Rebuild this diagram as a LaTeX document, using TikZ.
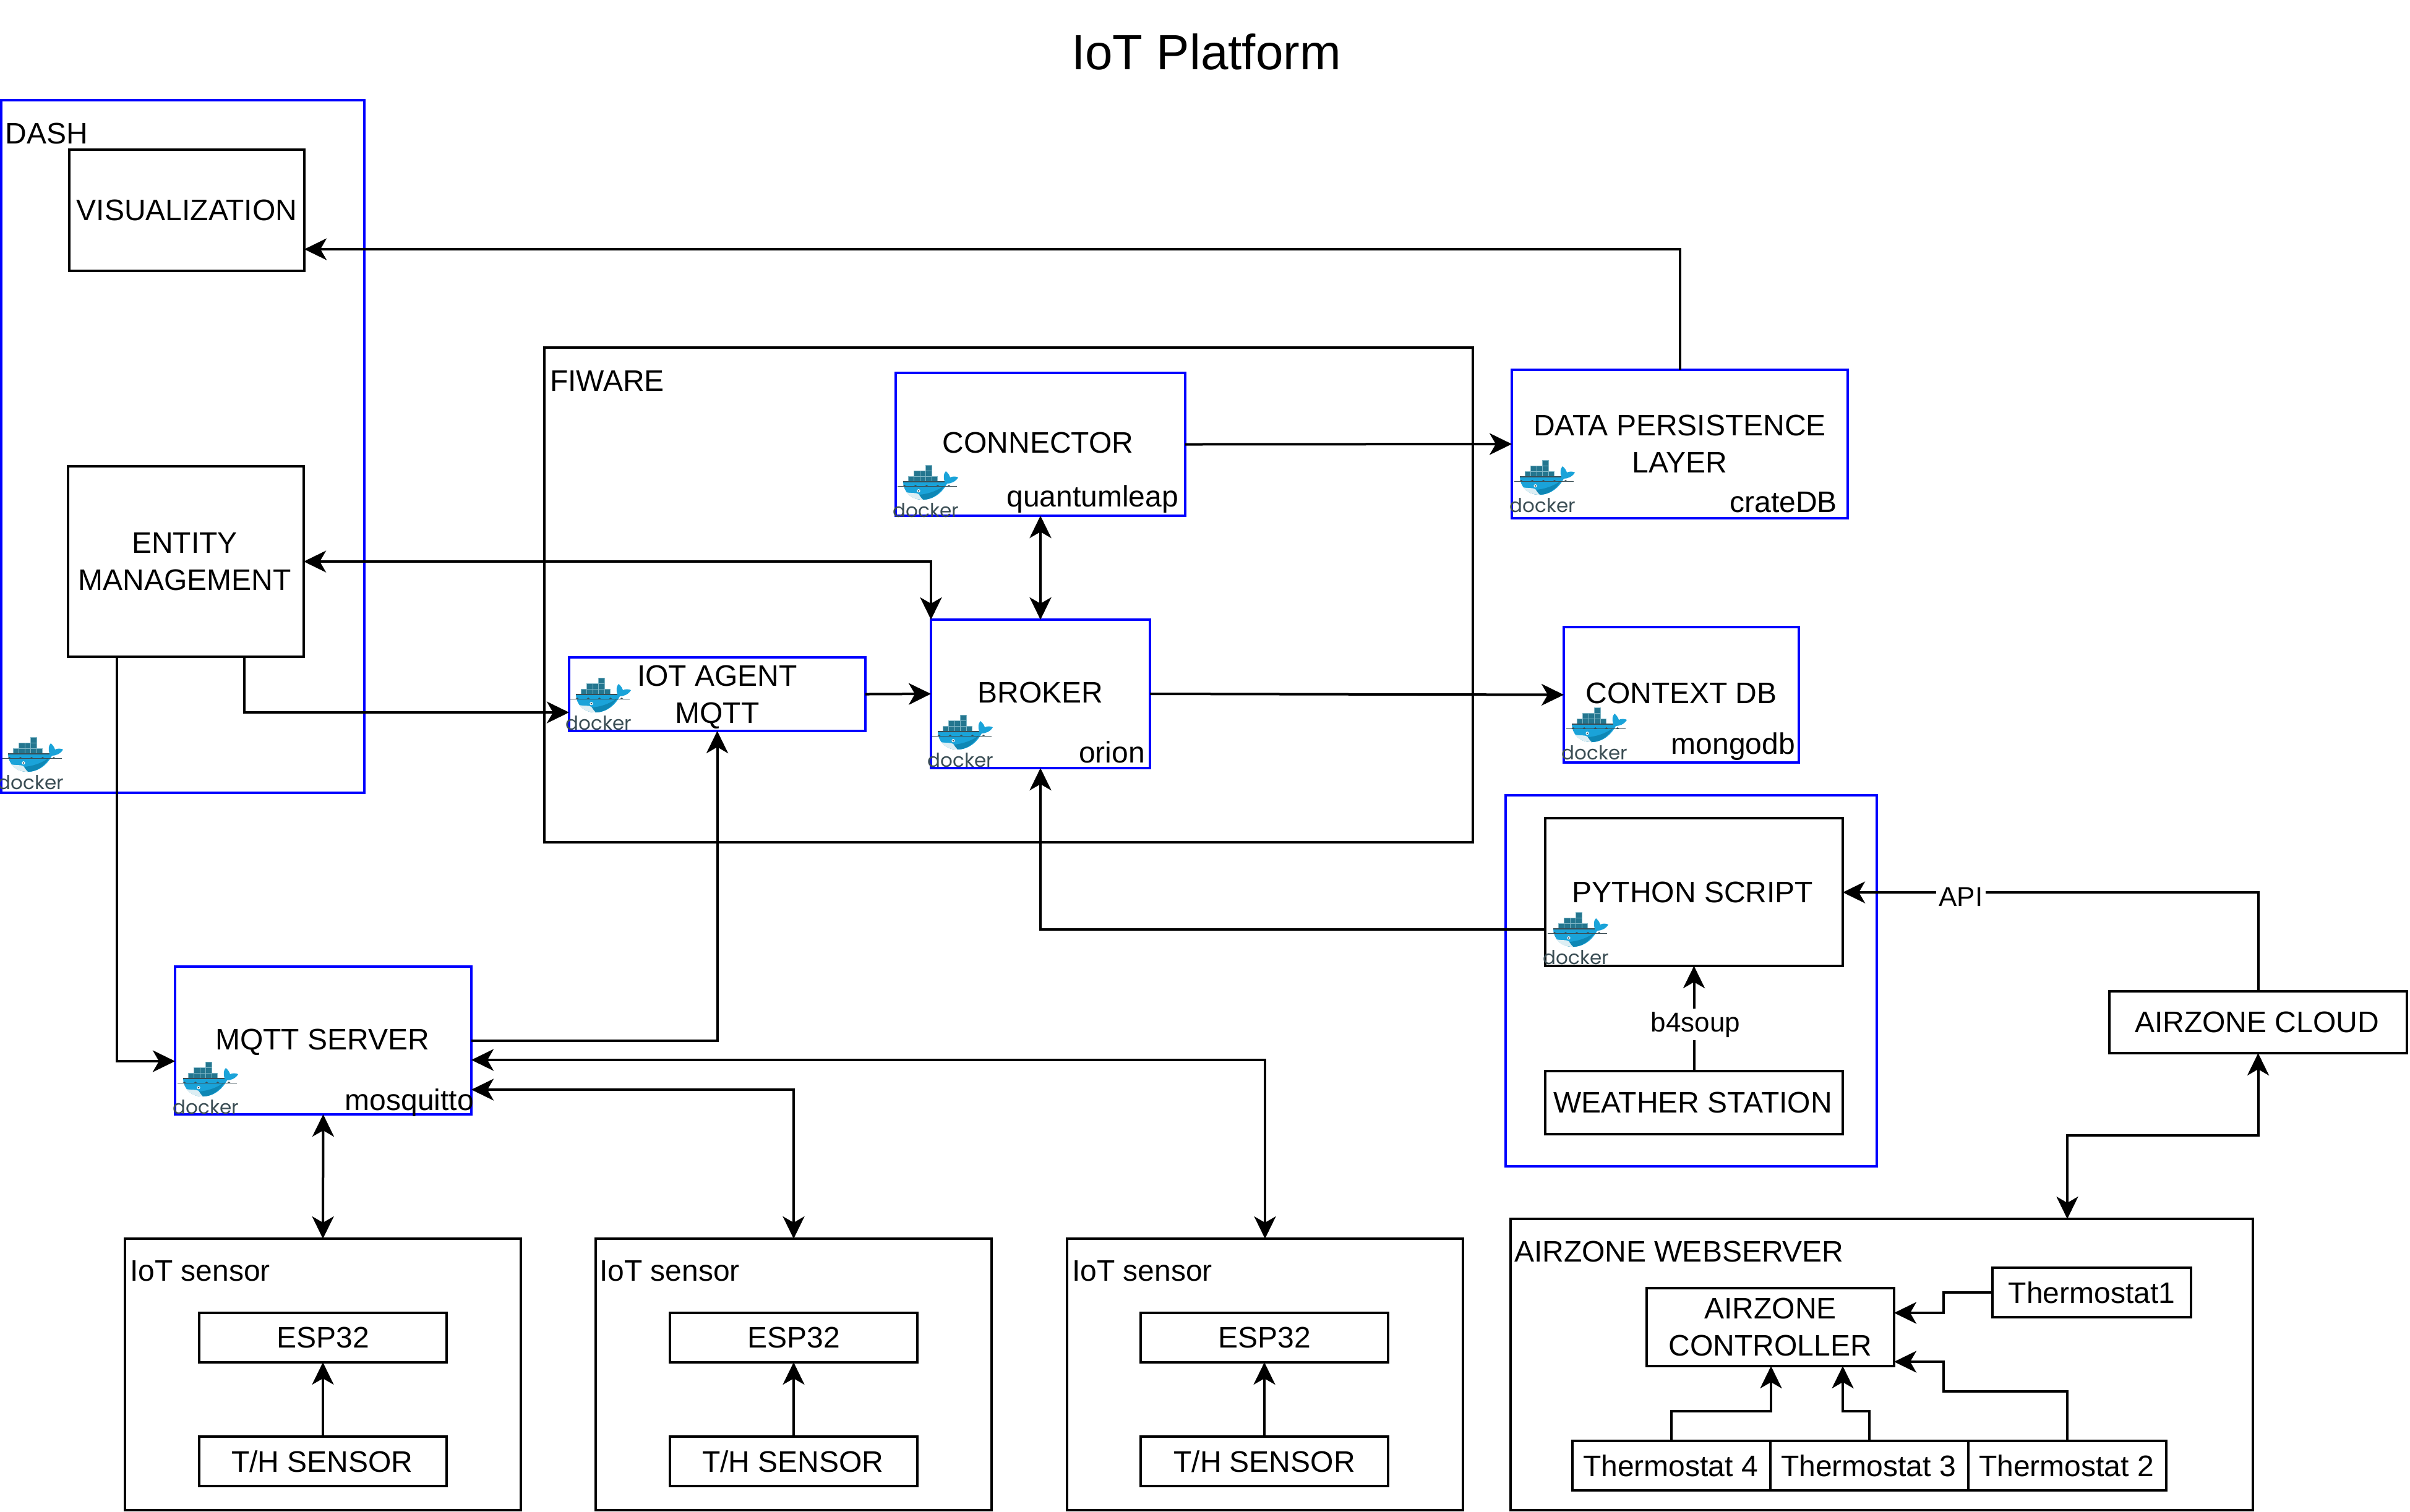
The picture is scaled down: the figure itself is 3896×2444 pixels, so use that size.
\documentclass[tikz,border=0pt]{standalone}
\usepackage{fontspec}
\setmainfont{Liberation Sans}
\newfontfamily\dockerfont{Poppins}
\usetikzlibrary{arrows.meta}
\definecolor{dockblue}{HTML}{1AA3D9}
\definecolor{dockdeep}{HTML}{0E87B5}
\definecolor{dockbox}{HTML}{24768F}
\definecolor{dockedge}{HTML}{7FB6C6}
\definecolor{dockink}{HTML}{3A4D54}
\definecolor{dockbelly}{HTML}{DCEEF4}
\newcommand{\bx}[7][]{%
  \pgfmathsetmacro\bxcx{(#3+#5)/2}\pgfmathsetmacro\bxcy{(#4+#6)/2}%
  \pgfmathsetmacro\bxw{(#5-#3)*0.2}\pgfmathsetmacro\bxh{(#6-#4)*0.2}%
  \node[#1,minimum width=\bxw pt,minimum height=\bxh pt] (#2) at (\bxcx,\bxcy) {#7};}
\newcommand{\txtup}{\rule[-1pt]{0pt}{1pt}}
\newcommand{\txtdown}[1]{\rule{0pt}{#1pt}}
\tikzset{
  blackbox/.style={draw=black,line width=0.8pt,inner sep=0pt,outer sep=0pt,align=center},
  bluebox/.style={draw=blue,line width=0.8pt,inner sep=0pt,outer sep=0pt,align=center},
  txtleft/.style={anchor=base west,inner sep=0pt},
  txtright/.style={anchor=base east,inner sep=0pt},
  edgelabel/.style={anchor=base,inner sep=1pt,fill=white,font=\fontsize{8.8}{11}\selectfont},
  arr/.style={line width=0.8pt,-{Stealth[length=7.2pt,width=7pt,inset=2pt]}},
  barr/.style={line width=0.8pt,{Stealth[length=7.2pt,width=7pt,inset=2pt]}-{Stealth[length=7.2pt,width=7pt,inset=2pt]}},
  pics/dockericon/.style={code={
    \fill[dockblue] (13,27) -- (80,27) .. controls (78,20) and (78,14) .. (82,10)
      .. controls (86,13) and (88,17) .. (89,20) .. controls (93,18) and (98,18) .. (102,20)
      .. controls (98,27) and (90,30) .. (84,30) .. controls (76,45) and (62,56) .. (45,56)
      .. controls (25,56) and (13,42) .. (13,27) -- cycle;
    \fill[dockdeep] (22,48) .. controls (45,50) and (65,44) .. (80,33) .. controls (72,46) and (60,56) .. (45,56) .. controls (35,56) and (28,53) .. (22,48) -- cycle;
    \fill[dockbelly] (18,44) .. controls (26,46) and (34,44) .. (38,47) .. controls (40,50) and (42,53) .. (45,56) .. controls (33,56) and (24,52) .. (18,44) -- cycle;
    \foreach \cx/\cy in {21/18.3,30.5/18.3,40/18.3,49.5/18.3,59/18.3,30.5/9.5,40/9.5,49.5/9.5,49.5/0.5}
      \filldraw[fill=dockbox,draw=dockedge,line width=0.15pt] (\cx,\cy) rectangle ++(9.5,8.8);
    \draw[dockink,line width=0.3pt] (13,27) -- (80,27);
    \draw[dockink,line width=0.2pt] (4,34.7) -- (100,34.7);
    \foreach \wx in {15,33,51,69,87}
      \fill[dockink] (\wx-4,34.7) .. controls (\wx-2,34.5) and (\wx-1,32.5) .. (\wx,32) .. controls (\wx+1,32.5) and (\wx+2,34.5) .. (\wx+4,34.7) -- cycle;
    \fill[white] (38,41.7) circle (2.6);
    \fill[dockink] (38,41.7) circle (1.4);
    \node[anchor=base,inner sep=0pt,text=dockink,font=\fontsize{6.2}{7}\dockerfont] (-word) at (50,84) {docker};
  }}
}
\begin{document}
\begin{tikzpicture}[x=0.2pt,y=-0.2pt]
\fill[white] (0,0) rectangle (3896,2444);
\useasboundingbox (0,0) rectangle (3896,2444);
\fontsize{9.6}{12}\selectfont
\node[anchor=center,inner sep=0pt,font=\fontsize{16}{19}\selectfont] (title) at (1950,84) {IoT Platform};

% containers
\bx[bluebox]{dash}{2}{162}{589}{1282}{}
\node[txtleft] (dashlbl) at (8,232) {DASH};
\bx[blackbox]{fiware}{880}{562}{2381}{1362}{}
\node[txtleft] (fiwarelbl) at (888,632) {FIWARE};
\bx[bluebox]{pyouter}{2434}{1286}{3034}{1886}{}
\bx[blackbox]{web}{2442}{1971}{3642}{2442}{}
\node[txtleft] (weblbl) at (2447,2040) {AIRZONE WEBSERVER};

% main boxes
\bx[blackbox]{vis}{112}{242}{492}{438}{VISUALIZATION}
\bx[blackbox]{entity}{110}{754}{491}{1062}{ENTITY\kern 0.8pt\\MANAGEMENT\kern 0.8pt}
\bx[bluebox]{conn}{1448}{603}{1916}{834}{\txtup CONNECTOR\kern 1.6pt}
\node[txtright] (connsub) at (1906,819) {quantumleap};
\bx[bluebox]{broker}{1505}{1002}{1859}{1242}{\txtup BROKER}
\node[txtright] (brokersub) at (1852,1233) {orion};
\bx[bluebox]{iot}{920}{1063}{1399}{1182}{\txtdown{8.7}IOT AGENT\\MQTT}
\bx[bluebox]{data}{2444}{598}{2987}{838}{DATA PERSISTENCE\\LAYER}
\node[txtright] (datasub) at (2971,828) {crateDB};
\bx[bluebox]{ctx}{2528}{1014}{2908}{1233}{\txtup CONTEXT DB}
\node[txtright] (ctxsub) at (2903,1219) {mongodb};
\bx[blackbox]{python}{2498}{1323}{2979}{1562}{PYTHON SCRIPT\kern 0.8pt}
\bx[blackbox]{weather}{2498}{1732}{2979}{1834}{WEATHER STATION\kern 0.8pt}
\bx[blackbox]{cloud}{3410}{1603}{3891}{1703}{AIRZONE CLOUD\kern 0.8pt}
\bx[blackbox]{ctrl}{2662}{2083}{3062}{2209}{AIRZONE\\CONTROLLER}
\bx[blackbox]{t1}{3221}{2050}{3542}{2130}{Thermostat1}
\bx[blackbox]{t4}{2542}{2330}{2862}{2410}{Thermostat 4\kern 0.6pt}
\bx[blackbox]{t3}{2862}{2330}{3182}{2410}{Thermostat 3\kern 0.6pt}
\bx[blackbox]{t2}{3182}{2330}{3502}{2410}{Thermostat 2\kern 0.6pt}
\bx[bluebox]{mqtt}{283}{1563}{762}{1802}{\txtdown{7.9}MQTT SERVER\kern 0.6pt}
\node[txtright] (mqttsub) at (767,1795) {mosquitto};

% sensors
\bx[blackbox]{sa}{202}{2003}{842}{2442}{}
\node[txtleft] (salbl) at (209,2071) {IoT sensor};
\bx[blackbox]{espa}{322}{2123}{722}{2203}{ESP32}
\bx[blackbox]{tha}{322}{2323}{722}{2403}{T/H SENSOR\kern 0.5pt}
\bx[blackbox]{sb}{963}{2003}{1603}{2442}{}
\node[txtleft] (sblbl) at (968,2071) {IoT sensor};
\bx[blackbox]{espb}{1083}{2123}{1483}{2203}{ESP32}
\bx[blackbox]{thb}{1083}{2323}{1483}{2403}{T/H SENSOR\kern 0.5pt}
\bx[blackbox]{sc}{1725}{2003}{2365}{2442}{}
\node[txtleft] (sclbl) at (1732,2071) {IoT sensor};
\bx[blackbox]{espc}{1844}{2123}{2244}{2203}{ESP32}
\bx[blackbox]{thc}{1844}{2323}{2244}{2403}{T/H SENSOR}

% connectors
\draw[arr] (data.north) |- (vis.east |- 0,403);
\draw[arr] (conn.east) -- (data.west);
\draw[barr] (conn.south) -- (broker.north);
\draw[barr] (entity.east) -| (broker.north west);
\draw[arr] (entity.south -| 395,0) |- (iot.west |- 0,1152);
\draw[arr] (entity.south -| 189,0) |- (mqtt.west |- 0,1716);
\draw[arr] (iot.east) -- (broker.west);
\draw[arr] (broker.east) -- (ctx.west);
\draw[arr] (mqtt.east |- 0,1683) -| (iot.south);
\draw[arr] (python.west |- 0,1503) -| (broker.south);
\draw[arr] (cloud.north) |- (python.east |- 0,1443);
\node[edgelabel] (apilbl) at (3170,1465) {API};
\draw[arr] (weather.north) -- (python.south);
\node[edgelabel] (soup) at (2741,1668) {b4soup};
\draw[barr] (cloud.south) |- (3342,1836) -- (web.north -| 3342,0);
\draw[arr] (t1.west) -| (3142,2123) -- (ctrl.east |- 0,2123);
\draw[arr] (t2.north) |- (3142,2250) |- (ctrl.east |- 0,2202);
\draw[arr] (t4.north) |- (2863,2282) -- (ctrl.south -| 2863,0);
\draw[arr] (t3.north) |- (2979,2282) -- (ctrl.south -| 2979,0);
\draw[barr] (mqtt.south) -- (sa.north);
\draw[barr] (mqtt.east |- 0,1762) -| (sb.north);
\draw[barr] (mqtt.east |- 0,1714) -| (sc.north);
\draw[arr] (tha.north) -- (espa.south);
\draw[arr] (thb.north) -- (espb.south);
\draw[arr] (thc.north) -- (espc.south);

% docker icons
\pic (ica) at (0,1192) {dockericon};
\pic (icb) at (1447,752) {dockericon};
\pic (icc) at (918,1096) {dockericon};
\pic (icd) at (1503,1156) {dockericon};
\pic (ice) at (2444,744) {dockericon};
\pic (icf) at (2528,1144) {dockericon};
\pic (icg) at (2498,1475) {dockericon};
\pic (ich) at (283,1717) {dockericon};
\end{tikzpicture}
\end{document}
